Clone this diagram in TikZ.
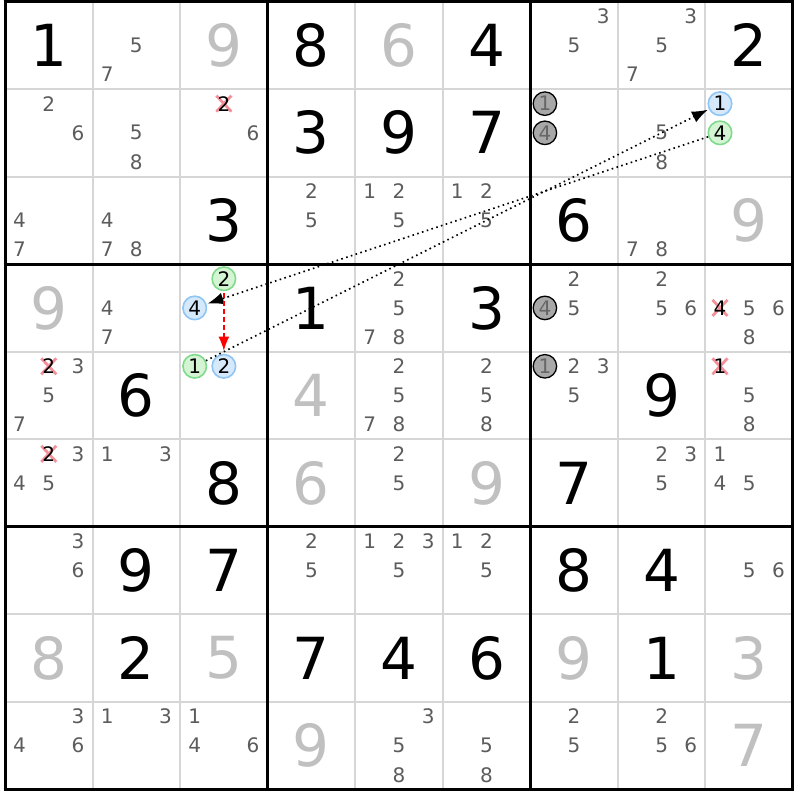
\documentclass[tikz,border=0pt]{standalone}
\usepackage{fontspec}
\setmainfont{DejaVu Sans}
\usetikzlibrary{arrows.meta}
\definecolor{candgray}{HTML}{5C5C5C}
\definecolor{solvedgray}{HTML}{C0C0C0}
\definecolor{thingrid}{HTML}{D6D6D6}
\definecolor{bluefill}{HTML}{D6E9FB}
\definecolor{blueline}{HTML}{8EC5F5}
\definecolor{greenfill}{HTML}{D4F4D4}
\definecolor{greenline}{HTML}{80DA8C}
\definecolor{grayfill}{HTML}{A8A8A8}
\definecolor{graytext}{HTML}{666666}
\definecolor{crossred}{HTML}{F4909A}
\newcommand\GX{5}
\newcommand\GY{1.5}
\newcommand\GC{87.55}
\newcommand\sdCandPos[3]{%
  \pgfmathsetmacro\cx{\GX+\GC*(#2-1)+\GC/6*(2*mod(#3-1,3)+1)}%
  \pgfmathsetmacro\cy{\GY+\GC*(#1-1)+\GC/6*(2*floor((#3-1)/3)+1)}}
\newcommand\sdCands[3]{%
  \foreach \d in {#3}{\sdCandPos{#1}{#2}{\d}\node[cand] (k#1#2\d) at (\cx,\cy) {\d};}}
\newcommand\sdCirc[4]{%
  \sdCandPos{#1}{#2}{#3}\node[cand,#4] (k#1#2#3) at (\cx,\cy) {#3};}
\newcommand\sdCross[3]{%
  \sdCandPos{#1}{#2}{#3}%
  \draw[crossx] ({\cx-7.5},{\cy-8}) -- ({\cx+7.5},{\cy+8}) ({\cx-7.5},{\cy+8}) -- ({\cx+7.5},{\cy-8});
  \node[cand,text=black] (k#1#2#3) at (\cx,\cy) {#3};}
\newcommand\sdG[3]{%
  \pgfmathsetmacro\cx{\GX+\GC*(#2-0.5)}\pgfmathsetmacro\cy{\GY+\GC*(#1-0.5)}%
  \node[given] (g#1#2) at (\cx,\cy) {#3};}
\newcommand\sdS[3]{%
  \pgfmathsetmacro\cx{\GX+\GC*(#2-0.5)}\pgfmathsetmacro\cy{\GY+\GC*(#1-0.5)}%
  \node[solved] (g#1#2) at (\cx,\cy) {#3};}
\tikzset{
  cand/.style={font=\fontsize{20}{20}\selectfont, text=candgray, inner sep=0pt},
  given/.style={font=\fontsize{58}{58}\selectfont, text=black, inner sep=0pt},
  solved/.style={given, text=solvedgray},
  bluec/.style={circle, draw=blueline, fill=bluefill, line width=1.6pt, minimum size=23.5pt, text=black, font=\fontsize{20}{20}\selectfont},
  greenc/.style={circle, draw=greenline, fill=greenfill, line width=1.6pt, minimum size=23.5pt, text=black, font=\fontsize{20}{20}\selectfont},
  grayc/.style={circle, draw=black, fill=grayfill, line width=1.3pt, minimum size=23.5pt, text=graytext, font=\fontsize{20}{20}\selectfont},
  crossx/.style={draw=crossred, line width=2.8pt},
  thinline/.style={draw=thingrid, line width=2pt},
  thickline/.style={draw=black, line width=3pt},
  link/.style={draw=black, line width=1.6pt, dash pattern=on 1.6pt off 3.4pt, -{Latex[length=16pt,width=12pt]}, shorten >=1pt},
  redlink/.style={draw=red, line width=1.6pt, dash pattern=on 5pt off 3pt, -{Latex[length=14pt,width=11pt]}, shorten >=3pt, shorten <=2pt}
}
\begin{document}
\begin{tikzpicture}[x=1pt,y=-1pt]
\useasboundingbox (0,0) rectangle (800,800);
\fill[white] (0,0) rectangle (800,800);
% grid
\foreach \i in {1,2,4,5,7,8}{
  \draw[thinline] ({\GX+\GC*\i},\GY) -- ({\GX+\GC*\i},{\GY+9*\GC});
  \draw[thinline] (\GX,{\GY+\GC*\i}) -- ({\GX+9*\GC},{\GY+\GC*\i});
}
\foreach \i in {0,3,6,9}{
  \draw[thickline] ({\GX+\GC*\i},{\GY-1.5}) -- ({\GX+\GC*\i},{\GY+9*\GC+1.5});
  \draw[thickline] ({\GX-1.5},{\GY+\GC*\i}) -- ({\GX+9*\GC+1.5},{\GY+\GC*\i});
}
% row 1
\sdG{1}{1}{1} \sdCands{1}{2}{5,7} \sdS{1}{3}{9} \sdG{1}{4}{8} \sdS{1}{5}{6} \sdG{1}{6}{4}
\sdCands{1}{7}{3,5} \sdCands{1}{8}{3,5,7} \sdG{1}{9}{2}
% row 2
\sdCands{2}{1}{2,6} \sdCands{2}{2}{5,8} \sdCross{2}{3}{2} \sdCands{2}{3}{6}
\sdG{2}{4}{3} \sdG{2}{5}{9} \sdG{2}{6}{7}
\sdCirc{2}{7}{1}{grayc} \sdCirc{2}{7}{4}{grayc} \sdCands{2}{8}{5,8}
\sdCirc{2}{9}{1}{bluec} \sdCirc{2}{9}{4}{greenc}
% row 3
\sdCands{3}{1}{4,7} \sdCands{3}{2}{4,7,8} \sdG{3}{3}{3} \sdCands{3}{4}{2,5}
\sdCands{3}{5}{1,2,5} \sdCands{3}{6}{1,2,5} \sdG{3}{7}{6} \sdCands{3}{8}{7,8} \sdS{3}{9}{9}
% row 4
\sdS{4}{1}{9} \sdCands{4}{2}{4,7} \sdCirc{4}{3}{2}{greenc} \sdCirc{4}{3}{4}{bluec}
\sdG{4}{4}{1} \sdCands{4}{5}{2,5,7,8} \sdG{4}{6}{3}
\sdCirc{4}{7}{4}{grayc} \sdCands{4}{7}{2,5} \sdCands{4}{8}{2,5,6}
\sdCross{4}{9}{4} \sdCands{4}{9}{5,6,8}
% row 5
\sdCross{5}{1}{2} \sdCands{5}{1}{3,5,7} \sdG{5}{2}{6}
\sdCirc{5}{3}{1}{greenc} \sdCirc{5}{3}{2}{bluec}
\sdS{5}{4}{4} \sdCands{5}{5}{2,5,7,8} \sdCands{5}{6}{2,5,8}
\sdCirc{5}{7}{1}{grayc} \sdCands{5}{7}{2,3,5} \sdG{5}{8}{9}
\sdCross{5}{9}{1} \sdCands{5}{9}{5,8}
% row 6
\sdCross{6}{1}{2} \sdCands{6}{1}{3,4,5} \sdCands{6}{2}{1,3} \sdG{6}{3}{8}
\sdS{6}{4}{6} \sdCands{6}{5}{2,5} \sdS{6}{6}{9} \sdG{6}{7}{7}
\sdCands{6}{8}{2,3,5} \sdCands{6}{9}{1,4,5}
% row 7
\sdCands{7}{1}{3,6} \sdG{7}{2}{9} \sdG{7}{3}{7} \sdCands{7}{4}{2,5}
\sdCands{7}{5}{1,2,3,5} \sdCands{7}{6}{1,2,5} \sdG{7}{7}{8} \sdG{7}{8}{4} \sdCands{7}{9}{5,6}
% row 8
\sdS{8}{1}{8} \sdG{8}{2}{2} \sdS{8}{3}{5} \sdG{8}{4}{7} \sdG{8}{5}{4} \sdG{8}{6}{6}
\sdS{8}{7}{9} \sdG{8}{8}{1} \sdS{8}{9}{3}
% row 9
\sdCands{9}{1}{3,4,6} \sdCands{9}{2}{1,3} \sdCands{9}{3}{1,4,6} \sdS{9}{4}{9}
\sdCands{9}{5}{3,5,8} \sdCands{9}{6}{5,8} \sdCands{9}{7}{2,5} \sdCands{9}{8}{2,5,6} \sdS{9}{9}{7}
% links
\draw[link] (k294) -- (k434);
\draw[link] (k531) -- (k291);
\draw[redlink] (k432) -- (k532);
\end{tikzpicture}
\end{document}
